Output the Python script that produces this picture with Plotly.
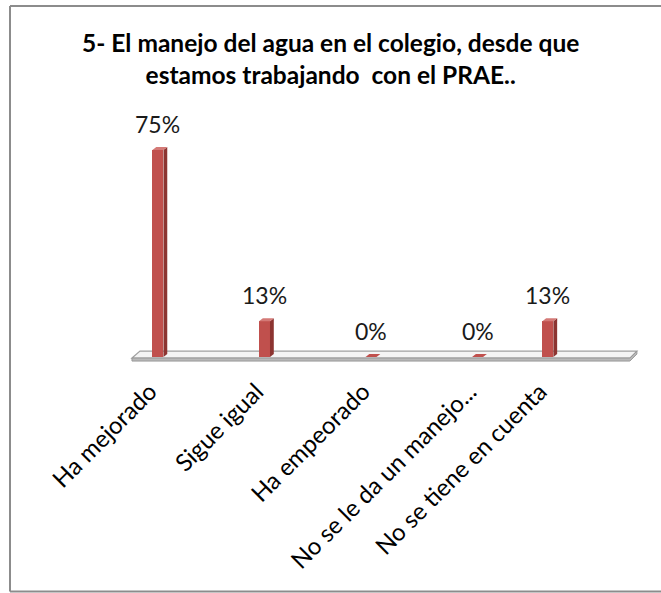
import plotly.graph_objects as go

# Survey question 5: water management at school since the PRAE project
categories = ["Ha mejorado", "Sigue igual", "Ha empeorado",
              "No se le da un manejo...", "No se tiene en cuenta"]
percentages = [75, 13, 0, 0, 13]
value_labels = ["75%", "13%", "0%", "0%", "13%"]
title_lines = ["5- El manejo del agua en el colegio, desde que",
               "estamos trabajando\u00a0 con el PRAE.."]

# horizontal slots for each category along the floor
slots = [0, 1, 2, 3, 3.66]

FONT = "Lato"
FRONT = "#C0504D"
SIDE = "#8C3431"
TOP = "#D47A77"

W, H = 661, 593
M_L, M_R, M_T, M_B = 126, 13, 85, 218
X_RANGE = [-0.3, 4.6]
Y_RANGE = [-6.5, 98.5]
PLOT_W = W - M_L - M_R
PLOT_H = H - M_T - M_B
px_x = PLOT_W / (X_RANGE[1] - X_RANGE[0])
px_y = PLOT_H / (Y_RANGE[1] - Y_RANGE[0])

half_w = 5.5 / px_x      # half width of the bar front face
depth_x = 3.8 / px_x     # 3D depth offset
depth_y = 3.0 / px_y

fig = go.Figure()

fig.add_trace(go.Bar(
    x=slots, y=percentages, width=2 * half_w,
    marker=dict(color=FRONT, line=dict(width=0)),
    hoverinfo="skip", showlegend=False,
))

shapes = []

# floor slab
fl, fr = -0.244, 4.43
back_y = 6 / px_y
front_y = -1 / px_y
bottom_y = -4 / px_y
shapes.append(dict(
    type="path", xref="x", yref="y", layer="below",
    path=f"M {fl},{front_y} L {fl + 8/px_x},{back_y} L {fr + 7/px_x},{back_y} "
         f"L {fr},{front_y} Z",
    fillcolor="#F4F4F4", line=dict(color="#A0A0A0", width=1.2),
))
shapes.append(dict(
    type="path", xref="x", yref="y", layer="below",
    path=f"M {fl},{front_y} L {fr},{front_y} L {fr + 7/px_x},{back_y} "
         f"L {fr + 7/px_x},{back_y - 3/px_y} L {fr},{bottom_y} L {fl},{bottom_y} Z",
    fillcolor="#B8B8B8", line=dict(color="#999999", width=1),
))

# 3D side and top faces of each bar
for c, v in zip(slots, percentages):
    r = c + half_w
    l = c - half_w
    if v > 0:
        shapes.append(dict(
            type="path", xref="x", yref="y", layer="above",
            path=f"M {r},{0} L {r},{v} L {r + depth_x},{v + depth_y} "
                 f"L {r + depth_x},{depth_y} Z",
            fillcolor=SIDE, line=dict(width=0),
        ))
    shapes.append(dict(
        type="path", xref="x", yref="y", layer="above",
        path=f"M {l},{v} L {l + depth_x},{v + depth_y} L {r + depth_x},{v + depth_y} "
             f"L {r},{v} Z",
        fillcolor=TOP if v > 0 else FRONT, line=dict(width=0),
    ))

# chart border: left, top and bottom edges
bx0 = (10 - M_L) / PLOT_W
bx1 = (W - M_L) / PLOT_W
by1 = 1 + (M_T - 6) / PLOT_H
by0 = -(M_B - 1.5) / PLOT_H
for x0, y0, x1, y1 in [(bx0, by0, bx0, by1), (bx0, by1, bx1, by1), (bx0, by0, bx1, by0)]:
    shapes.append(dict(
        type="line", xref="paper", yref="paper", layer="below",
        x0=x0, y0=y0, x1=x1, y1=y1,
        line=dict(color="#8C8C8C", width=2),
    ))

annotations = []
for c, v, t in zip(slots, percentages, value_labels):
    annotations.append(dict(
        x=c, y=v, xref="x", yref="y", text=t, showarrow=False,
        yanchor="middle", yshift=26,
        font=dict(family=FONT, size=23, color="#1A1A1A"),
    ))

annotations.append(dict(
    x=(W / 2 - M_L) / PLOT_W, y=1 + (M_T - 26) / PLOT_H,
    xref="paper", yref="paper",
    text="<b>" + "<br>".join(title_lines) + "</b>",
    showarrow=False, yanchor="top", xanchor="center",
    font=dict(family=FONT, size=24.5, color="#000000"),
))

fig.update_layout(
    width=W, height=H,
    margin=dict(l=M_L, r=M_R, t=M_T, b=M_B),
    paper_bgcolor="white", plot_bgcolor="rgba(0,0,0,0)",
    shapes=shapes, annotations=annotations,
    xaxis=dict(
        range=X_RANGE, tickmode="array", tickvals=slots, ticktext=categories,
        tickangle=-45, showgrid=False, zeroline=False, showline=False,
        ticks="", ticklabelshift=-8, ticklabelstandoff=-3,
        tickfont=dict(family=FONT, size=24, color="#000000"),
    ),
    yaxis=dict(range=Y_RANGE, visible=False, showgrid=False, zeroline=False),
    bargap=0,
)

fig.write_html("out.html")
